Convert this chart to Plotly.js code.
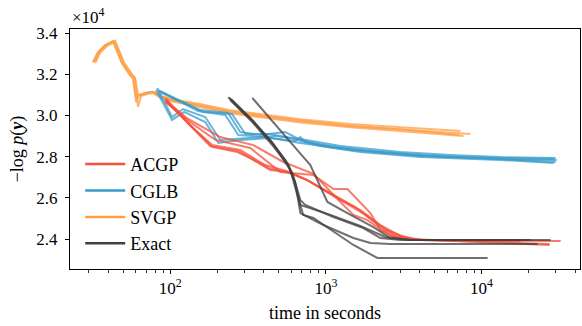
<!DOCTYPE html>
<html>
<head>
<meta charset="utf-8">
<script src="https://cdn.plot.ly/plotly-3.0.1.min.js"></script>
<style>html,body{margin:0;padding:0;background:#fff;}#chart{width:582px;height:326px;}</style>
</head>
<body>
<div id="chart"></div>
<script>
// Methods and colours
const methods = ["ACGP", "CGLB", "SVGP", "Exact"];
const colors = ["#f5503a", "#3a9bc9", "#ff9e45", "#404040"];

// ACGP runs: time in seconds, negative log marginal likelihood
const acgpTimes = [
  [92.9, 131, 186, 270, 327, 440, 565, 760, 1186, 1667, 2241, 3013, 4053, 32200],
  [92.9, 134, 186, 282, 408, 591, 795, 1240, 1799, 2407, 3493, 27360],
  [94.4, 128, 210, 342, 533, 832, 1240, 1503, 1849, 2143, 2600, 3493, 20650],
  [92.9, 134, 195, 327, 510, 832, 1118, 1375, 1933, 2241, 2800, 4053, 27360],
  [92.9, 131, 181, 274, 427, 591, 738, 1152, 1547, 2086, 2800, 4053, 17830]
];
const acgpValues = [
  [30750, 29630, 28470, 28220, 27930, 27350, 27250, 26860, 25990, 25410, 24680, 24150, 23950, 23900],
  [30850, 29530, 28560, 28320, 27590, 27250, 26770, 25890, 25170, 24440, 24000, 23710],
  [30700, 29870, 28950, 28560, 27740, 27160, 25800, 25170, 24920, 24580, 24190, 23950, 23950],
  [30650, 29680, 28810, 28420, 27250, 27110, 26430, 26430, 25260, 24440, 24050, 23950, 23760],
  [30750, 29580, 28510, 28270, 27450, 27200, 26910, 26090, 25550, 24780, 24150, 23950, 23900]
];

// CGLB runs
const cglbTimes = [
  [81.3, 103, 123, 168, 204, 282, 440, 637, 686, 738, 1070, 1667, 3013, 6324, 13260, 29040],
  [82.4, 103, 121, 168, 210, 304, 474, 686, 1240, 3013, 6324, 13260, 29910],
  [83.7, 156, 236, 282, 379, 549, 686, 1070, 1933, 4053, 13260, 29910],
  [85.0, 163, 250, 304, 440, 591, 922, 1667, 4053, 13260, 29040],
  [86.2, 151, 226, 274, 408, 686, 1438, 4053, 13260, 30380]
];
const cglbValues = [
  [31230, 29780, 30170, 29680, 28660, 28810, 28900, 28760, 28950, 28710, 28520, 28320, 28130, 27980, 27930, 27880],
  [31330, 29920, 30310, 29920, 28810, 28900, 29000, 28860, 28520, 28220, 28080, 27980, 27930],
  [31230, 30260, 30120, 29190, 29050, 29190, 28810, 28470, 28270, 28080, 27880, 27740],
  [31140, 30170, 30070, 29100, 29100, 28900, 28520, 28220, 27980, 27840, 27690],
  [31180, 30210, 30020, 29050, 28950, 28660, 28320, 28030, 27880, 27840]
];

// SVGP runs
const svgpTimes = [
  [32.0, 34.4, 38.2, 43.0, 49.1, 55.3, 57.8, 60.4, 63.2, 69.1, 76.6, 86.2, 100, 125, 156, 243, 379, 686, 1438, 3013, 7330],
  [33.0, 35.4, 39.4, 44.3, 50.6, 57.0, 59.5, 62.2, 65.1, 71.2, 78.9, 88.8, 103, 128, 160, 249, 388, 700, 1460, 3060, 8490],
  [32.0, 34.4, 38.2, 43.0, 49.1, 55.3, 57.8, 60.4, 63.2, 69.1, 76.6, 86.2, 100, 125, 156, 243, 379, 686, 1438, 3013, 7660],
  [33.0, 35.4, 39.4, 44.3, 50.6, 57.0, 59.5, 62.2, 65.1, 71.2, 78.9, 88.8, 103, 128, 160, 249, 388, 700, 1460, 3060, 7200]
];
const svgpValues = [
  [32590, 33080, 33420, 33610, 32540, 31960, 31820, 30900, 30990, 31090, 31140, 30950, 30800, 30680, 30560, 30250, 30060, 29820, 29580, 29420, 29240],
  [32540, 33030, 33380, 33570, 32500, 31920, 31770, 30410, 30940, 31040, 31100, 30890, 30740, 30600, 30460, 30160, 29960, 29720, 29480, 29310, 29100],
  [32560, 33050, 33400, 33590, 32520, 31940, 31800, 30650, 30960, 31060, 31120, 30860, 30700, 30560, 30420, 30110, 29910, 29660, 29420, 29240, 29000],
  [32620, 33100, 33440, 33630, 32560, 31980, 31840, 31000, 31010, 31110, 31150, 30920, 30760, 30620, 30480, 30180, 29990, 29750, 29500, 29330, 29050]
];

// Exact GP runs
const exactTimes = [
  [239, 327, 440, 549, 609, 686, 738, 1118, 1742, 2241, 3013, 20650],
  [243, 337, 453, 574, 637, 686, 964, 1503, 1933, 2600, 22900],
  [246, 342, 467, 591, 656, 716, 832, 1503, 2143, 2600, 10940],
  [236, 327, 447, 565, 627, 686, 1070, 1667, 2407, 3493, 17830],
  [337, 474, 656, 795, 882, 1023, 1375, 2020, 2600, 3493, 27780]
];
const exactValues = [
  [30850, 29870, 28810, 27840, 27200, 25890, 25650, 25070, 24530, 24050, 23950, 23950],
  [30750, 29680, 28560, 27590, 26720, 25260, 24680, 24050, 23810, 23760, 23760],
  [30800, 29730, 28510, 27350, 26140, 25170, 25020, 23710, 23080, 23080, 23080],
  [30890, 29830, 28710, 27690, 26860, 25650, 25170, 24630, 24100, 23950, 23950],
  [30850, 29530, 28320, 27590, 26860, 25800, 25260, 24580, 24050, 23950, 23950]
];

// Axis ticks
const yTickVals = [24000, 26000, 28000, 30000, 32000, 34000];
const yTickText = ["2.4", "2.6", "2.8", "3.0", "3.2", "3.4"];
const xTickVals = [100, 1000, 10000];
const xTickText = ["10<sup>2</sup>", "10<sup>3</sup>", "10<sup>4</sup>"];
const xMinorVals = [30, 40, 50, 60, 70, 80, 90, 200, 300, 400, 500, 600, 700, 800, 900,
  2000, 3000, 4000, 5000, 6000, 7000, 8000, 9000, 20000, 30000, 40000];

const groups = [
  {times: svgpTimes, values: svgpValues, color: colors[2], op: 0.75},
  {times: cglbTimes, values: cglbValues, color: colors[1], op: 0.75},
  {times: acgpTimes, values: acgpValues, color: colors[0], op: 0.75},
  {times: exactTimes, values: exactValues, color: colors[3], op: 0.75}
];

const traces = [];
groups.forEach(g => {
  g.times.forEach((t, i) => {
    traces.push({
      x: t, y: g.values[i], type: "scatter", mode: "lines",
      line: {color: g.color, width: 2}, opacity: g.op,
      showlegend: false, hoverinfo: "skip"
    });
  });
});
methods.forEach((m, i) => {
  traces.push({
    x: [null], y: [null], type: "scatter", mode: "lines", name: m,
    line: {color: colors[i], width: 2.5}, showlegend: true
  });
});

const font = "Liberation Serif, Times New Roman, serif";
const layout = {
  width: 582, height: 326,
  margin: {l: 70, r: 2, t: 29, b: 57, pad: 0},
  paper_bgcolor: "#fff", plot_bgcolor: "#fff",
  font: {family: font, size: 17, color: "#000"},
  showlegend: true,
  legend: {
    x: 0.02, y: 0.513, xanchor: "left", yanchor: "top",
    bgcolor: "rgba(255,255,255,0)", borderwidth: 0,
    font: {family: font, size: 18, color: "#000"},
    itemwidth: 40, tracegroupgap: 0
  },
  xaxis: {
    type: "log", range: [1.357, 4.632],
    tickmode: "array", tickvals: xTickVals, ticktext: xTickText,
    ticks: "outside", ticklen: 4, tickwidth: 1, tickcolor: "#000",
    minor: {tickmode: "array", tickvals: xMinorVals, ticks: "outside", ticklen: 2.5, tickwidth: 0.8, tickcolor: "#000", showgrid: false},
    showline: true, linecolor: "#000", linewidth: 1, mirror: true,
    showgrid: false, zeroline: false, automargin: false,
    tickfont: {family: font, size: 17},
    title: {text: "time in seconds", font: {family: font, size: 18}, standoff: 8}
  },
  yaxis: {
    range: [22545, 34195],
    tickmode: "array", tickvals: yTickVals, ticktext: yTickText,
    ticks: "outside", ticklen: 4, tickwidth: 1, tickcolor: "#000",
    showline: true, linecolor: "#000", linewidth: 1, mirror: true,
    showgrid: false, zeroline: false, automargin: false,
    ticklabelstandoff: 4,
    tickfont: {family: font, size: 17},
    title: {text: "−log <i>p</i>(<b><i>y</i></b>)", font: {family: font, size: 18}, standoff: 8}
  },
  annotations: [{
    text: "×10<sup>4</sup>", xref: "paper", yref: "paper", x: 0, y: 1,
    xanchor: "left", yanchor: "bottom", showarrow: false,
    font: {family: font, size: 17, color: "#000"}, yshift: 0
  }]
};

Plotly.newPlot("chart", traces, layout, {staticPlot: true, displayModeBar: false});
</script>
</body>
</html>
